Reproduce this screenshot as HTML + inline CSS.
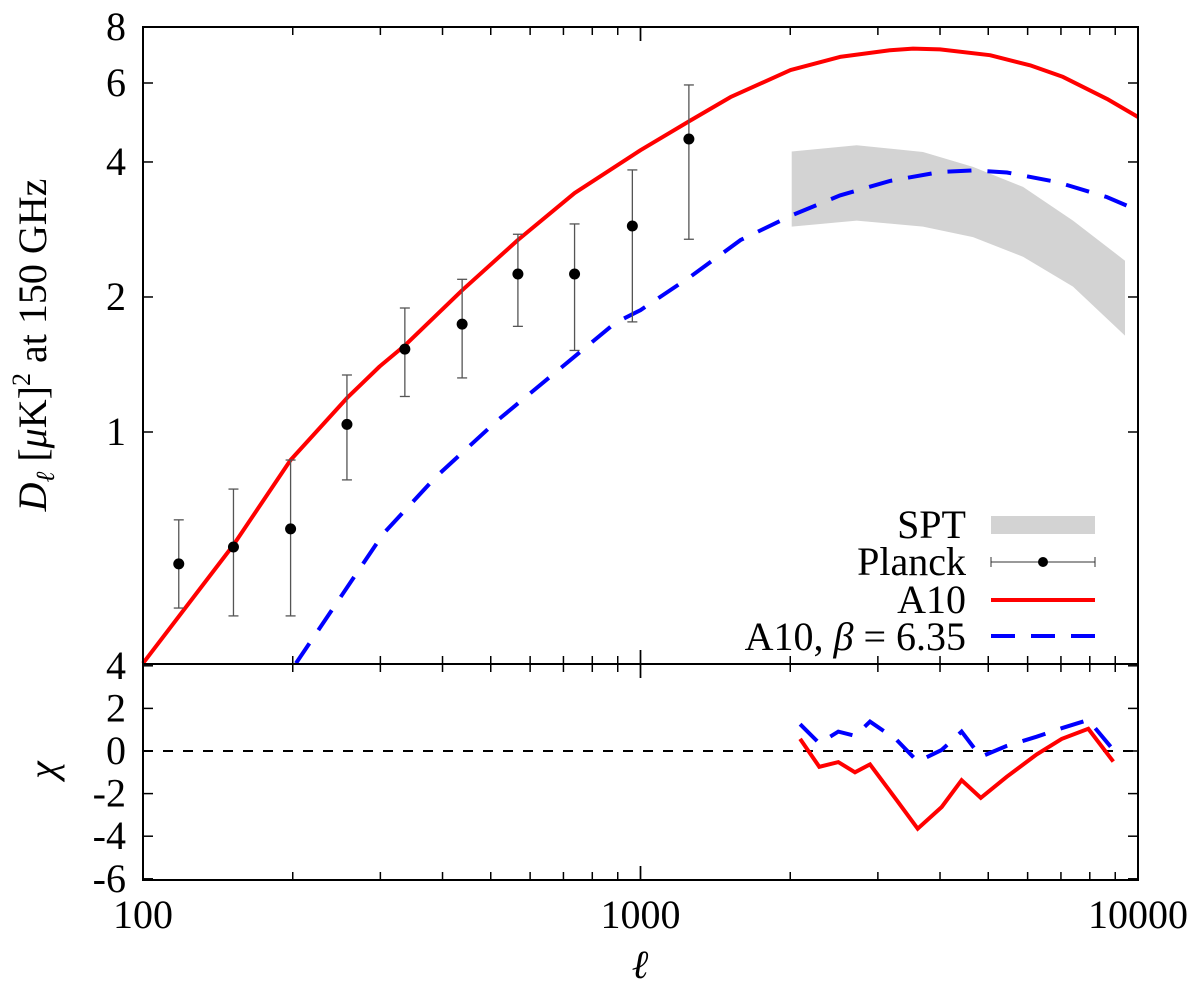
<!DOCTYPE html>
<html><head><meta charset="utf-8"><style>
html,body{margin:0;padding:0;background:#fff;}
svg{display:block;}
svg text{font-family:"Liberation Serif","DejaVu Serif",serif;}
</style></head><body>
<svg id="chart" width="1200" height="986" viewBox="0 0 1200 986" xmlns="http://www.w3.org/2000/svg" font-family="Liberation Serif, DejaVu Serif, serif">
<g id="g-spt"></g>
<g id="g-zero"></g>
<g id="g-red"></g>
<g id="g-blue"></g>
<g id="g-planck"></g>
<g id="g-chi"></g>
<g id="g-axes"></g>
<text x="46" y="345" font-size="40" text-anchor="middle" transform="rotate(-90 46 345)" font-family="Liberation Serif, serif"><tspan font-style="italic">D</tspan><tspan font-style="italic" font-size="26" dy="8">ℓ</tspan><tspan dy="-8"> [</tspan><tspan font-style="italic">μ</tspan><tspan>K]</tspan><tspan font-size="26" dy="-16">2</tspan><tspan dy="16"> at 150 GHz</tspan></text>
<text x="44" y="782" font-size="40" font-style="italic" text-anchor="middle" transform="rotate(-90 44 770)" font-family="Liberation Serif, serif">χ</text>
<text x="640" y="978" font-size="40" font-style="italic" text-anchor="middle" font-family="Liberation Serif, serif">ℓ</text>
<g font-size="40" text-anchor="end" font-family="Liberation Serif, serif">
<text x="966" y="538">SPT</text>
<rect x="991" y="516" width="104" height="18" fill="#d3d3d3"/>
<text x="966" y="575">Planck</text>
<g stroke="#333" stroke-width="1"><line x1="991" y1="562" x2="1095" y2="562"/><line x1="991" y1="557" x2="991" y2="567"/><line x1="1095" y1="557" x2="1095" y2="567"/><circle cx="1043" cy="562" r="5" fill="#000" stroke="none"/></g>
<text x="966" y="613">A10</text>
<line x1="991" y1="600" x2="1095" y2="600" stroke="#f00" stroke-width="4"/>
<text x="966" y="650">A10, <tspan font-style="italic">β</tspan> = 6.35</text>
<line x1="991" y1="636" x2="1095" y2="636" stroke="#00f" stroke-width="4" stroke-dasharray="24,16"/>
</g>
</svg>
<script>
const planckEll=[118,152,198,257,336,438,567,737,963,1251];
const planckVal=[0.508,0.554,0.608,1.04,1.53,1.74,2.25,2.25,2.88,4.5];
const planckLo=[0.405,0.389,0.389,0.782,1.20,1.32,1.72,1.52,1.76,2.69];
const planckHi=[0.637,0.746,0.866,1.34,1.89,2.19,2.76,2.91,3.84,5.94];
const redEll=[100,152,198,257,299,336,438,567,737,1000,1260,1517,2002,2518,3173,3529,3999,5040,6067,7068,8664,10000];
const redVal=[0.305,0.560,0.866,1.19,1.40,1.56,2.07,2.68,3.41,4.25,4.95,5.58,6.41,6.86,7.10,7.16,7.13,6.92,6.57,6.19,5.53,5.04];
const blueEll=[203,304,388,515,889,1000,1260,1589,2013,2518,3173,3999,4660,5454,6874,8664,10000];
const blueVal=[0.305,0.593,0.794,1.06,1.75,1.87,2.22,2.68,3.04,3.37,3.63,3.80,3.83,3.79,3.61,3.34,3.12];
const sptEll=[2013,2720,3697,4660,5873,7401,9418];
const sptUpper=[4.22,4.36,4.21,3.90,3.52,2.96,2.41];
const sptLower=[2.87,2.96,2.87,2.72,2.46,2.11,1.64];
const chiEll=[2093,2288,2498,2699,2893,3273,3608,4031,4421,4830,5446,6258,7026,7946,8921];
const chiRed=[0.57,-0.74,-0.52,-1.0,-0.63,-2.31,-3.65,-2.63,-1.37,-2.20,-1.21,-0.16,0.57,1.04,-0.50];
const chiBlue=[1.26,0.36,0.91,0.71,1.38,0.52,-0.50,0.05,0.91,-0.27,0.24,0.67,1.07,1.46,0.05];
const yTicks=[1,2,4,6,8];
const chiTicks=[-6,-4,-2,0,2,4];
const xTicks=[100,1000,10000];

const NS="http://www.w3.org/2000/svg";
const L=143,R=1138,T=27,B1=664,B2=880;
function X(e){return L+(Math.log10(e)-2)/2*(R-L);}
function Y(v){return 432-Math.log10(v)*448.5;}
function C(c){return 751-c*21.3;}
function mk(p,tag,a){const e=document.createElementNS(NS,tag);for(const k in a)e.setAttribute(k,a[k]);document.getElementById(p).appendChild(e);return e;}
function pts(xs,ys,fx,fy){return xs.map((x,i)=>fx(x).toFixed(1)+","+fy(ys[i]).toFixed(1)).join(" ");}

let d="M"+sptEll.map((e,i)=>X(e).toFixed(1)+","+Y(sptUpper[i]).toFixed(1)).join("L");
for(let i=sptEll.length-1;i>=0;i--)d+="L"+X(sptEll[i]).toFixed(1)+","+Y(sptLower[i]).toFixed(1);
let e=mk("g-spt","path",{d:d+"Z",fill:"#d3d3d3"});



e=mk("g-red","polyline",{points:pts(redEll,redVal,X,Y),fill:"none",stroke:"#f00","stroke-width":4,"stroke-linejoin":"round"});


e=mk("g-blue","polyline",{points:pts(blueEll,blueVal,X,Y),fill:"none",stroke:"#00f","stroke-width":4,"stroke-dasharray":"24,16"});



planckEll.forEach((l,i)=>{
 const x=X(l);
 let g=mk("g-planck","g",{stroke:"#555","stroke-width":1.3});
 
 
 g.innerHTML=`<line x1="${x}" x2="${x}" y1="${Y(planckLo[i])}" y2="${Y(planckHi[i])}"/><line x1="${x-5}" x2="${x+5}" y1="${Y(planckLo[i])}" y2="${Y(planckLo[i])}"/><line x1="${x-5}" x2="${x+5}" y1="${Y(planckHi[i])}" y2="${Y(planckHi[i])}"/><circle cx="${x}" cy="${Y(planckVal[i])}" r="5.5" fill="#000" stroke="none"/>`;
});

e=mk("g-zero","line",{x1:L,x2:R,y1:C(0),y2:C(0),stroke:"#000","stroke-width":2,"stroke-dasharray":"10,10"});


e=mk("g-chi","polyline",{points:pts(chiEll,chiRed,X,C),fill:"none",stroke:"#f00","stroke-width":4});


e=mk("g-chi","polyline",{points:pts(chiEll,chiBlue,X,C),fill:"none",stroke:"#00f","stroke-width":4,"stroke-dasharray":"24,16"});



let s="";
s+=`<rect x="${L}" y="${T}" width="${R-L}" height="${B2-T}" fill="none" stroke="#000" stroke-width="2"/>`;
s+=`<line x1="${L}" x2="${R}" y1="${B1}" y2="${B1}" stroke="#000" stroke-width="2"/>`;
for(let dec=100;dec<10000;dec*=10)for(let m=1;m<=10;m++){const v=dec*m;const x=X(v);const len=(m==1||m==10)?14:8;
 s+=`<line x1="${x}" x2="${x}" y1="${T}" y2="${T+len}" stroke="#000" stroke-width="1.5"/><line x1="${x}" x2="${x}" y1="${B1}" y2="${B1-len}" stroke="#000" stroke-width="1.5"/><line x1="${x}" x2="${x}" y1="${B1}" y2="${B1+len}" stroke="#000" stroke-width="1.5"/><line x1="${x}" x2="${x}" y1="${B2}" y2="${B2-len}" stroke="#000" stroke-width="1.5"/>`;}
const tf='font-family="Liberation Serif, serif" font-size="40"';
yTicks.forEach(v=>{const y=Y(v);s+=`<line x1="${L}" x2="${L+10}" y1="${y}" y2="${y}" stroke="#000" stroke-width="1.5"/><line x1="${R}" x2="${R-10}" y1="${y}" y2="${y}" stroke="#000" stroke-width="1.5"/><text x="126" y="${y+13}" ${tf} text-anchor="end">${v}</text>`;});
chiTicks.forEach(v=>{const y=C(v);s+=`<line x1="${L}" x2="${L+10}" y1="${y}" y2="${y}" stroke="#000" stroke-width="1.5"/><line x1="${R}" x2="${R-10}" y1="${y}" y2="${y}" stroke="#000" stroke-width="1.5"/><text x="126" y="${y+13}" ${tf} text-anchor="end">${v}</text>`;});
xTicks.forEach(v=>{s+=`<text x="${X(v)}" y="928" ${tf} text-anchor="middle">${v}</text>`;});
document.getElementById("g-axes").innerHTML=s;
</script>
</body></html>
